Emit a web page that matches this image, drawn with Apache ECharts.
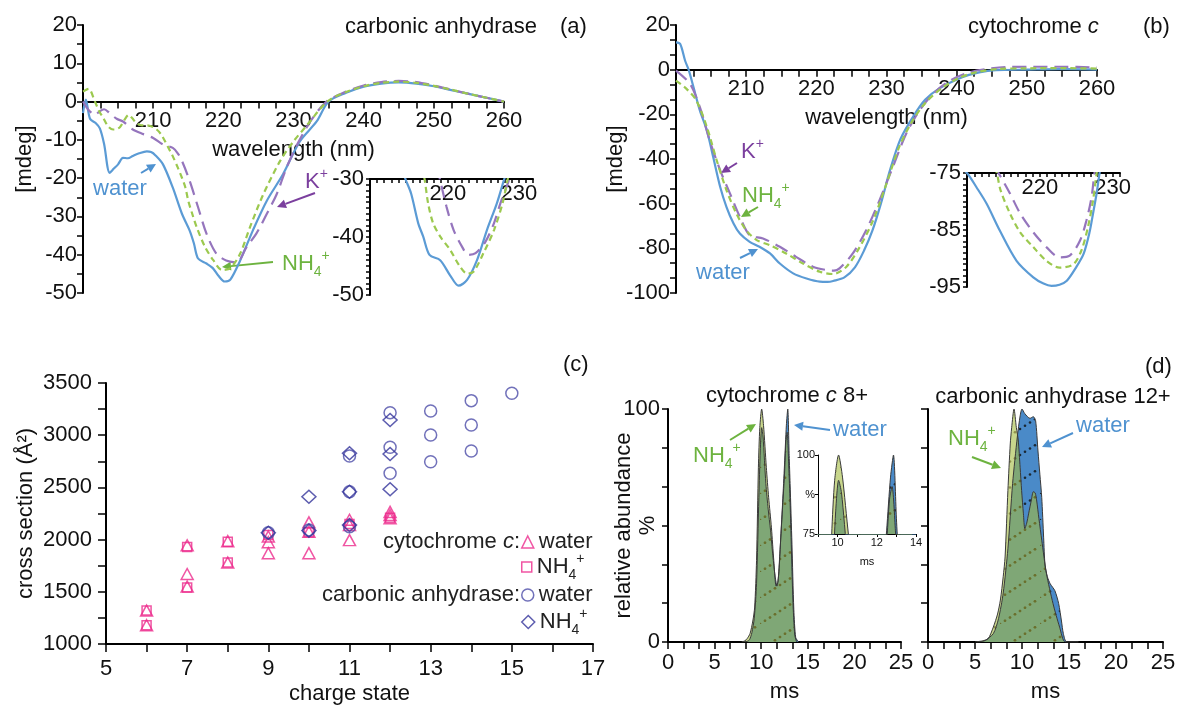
<!DOCTYPE html>
<html>
<head>
<meta charset="utf-8">
<title>CD spectra, cross sections and arrival times</title>
<script src="https://cdn.jsdelivr.net/npm/echarts@6/dist/echarts.min.js"></script>
<style>
html, body { margin: 0; padding: 0; background: #fff; }
#chart { width: 1182px; height: 708px; }
</style>
</head>
<body>
<div id="chart"></div>
<script>
var FONT = '"Liberation Sans", Arial, sans-serif';
var BLUE = '#5b9bd5', GREEN = '#9cc94f', PURPLE = '#9575bd';
var TXT_BLUE = '#4f92d0', TXT_GREEN = '#6db33f', TXT_PURPLE = '#7b3f9e';
var PINK = '#ec2a8c', CA_CIRC = '#4d4da9', CA_DIAM = '#35359b';

// (a) carbonic anhydrase CD, [wavelength nm, mdeg]
var caWater = [[200,-3],[200.4,0.5],[201,-4.5],[201.8,-5.6],[202.4,-7],[203,-11],[203.8,-18.6],[204.4,-17.5],[205,-16.4],[205.7,-14.7],[206.4,-14.8],[207.1,-14.2],[208,-13.5],[209.1,-13],[209.7,-13.2],[210.3,-14],[211.4,-16.4],[212.8,-22.5],[214.1,-29.3],[215.2,-33.7],[215.8,-37],[216.4,-41],[217.6,-42.3],[218.5,-43.5],[219.3,-45.5],[220.2,-47],[221,-46.5],[222.4,-41.5],[224.2,-33.7],[226.2,-25.9],[228.5,-19],[230.9,-10.4],[233.3,-5.2],[235,0],[237.5,2.3],[240,3.9],[242.5,4.7],[245,5],[247.5,4.7],[250,4],[252.5,3],[255,2],[257.5,1],[260,0]];
var caNH4 = [[200,2.6],[200.8,3.3],[201.7,0],[202.3,-2.5],[202.9,-4.3],[203.6,-6.5],[204.3,-7.3],[204.8,-7.2],[205.3,-6.6],[206,-4.5],[206.5,-3.5],[207,-4.3],[207.6,-5.6],[208.4,-6.2],[209.1,-6.2],[209.8,-6.5],[210.5,-7.3],[211.1,-8.5],[211.7,-10.4],[212.3,-12.5],[212.9,-14.7],[213.5,-17.2],[214.1,-19.9],[214.6,-22.5],[215,-25.9],[215.6,-29.5],[216.2,-32.8],[217.4,-38],[218.6,-41.5],[219.8,-44],[221,-43.5],[222.4,-39.7],[223.8,-32.8],[225.7,-24.2],[228.1,-15.5],[230,-10.4],[232,-6],[234.8,0],[237.5,2.5],[240,4],[242.5,4.9],[245,5.2],[247.5,4.9],[250,4.1],[252.5,3.1],[255,2],[257.5,1],[260,0]];
var caK = [[200,0],[200.5,-1.5],[201,-2.6],[201.7,-3.5],[202.4,-2.5],[203,-2],[203.8,-3],[204.8,-4.5],[205.7,-5.2],[207.1,-7.3],[208.6,-8.5],[210,-9.5],[211.4,-11.2],[212.8,-12.1],[213.5,-13.5],[214.1,-15.5],[215.2,-20.7],[216.4,-27.6],[217.6,-34.5],[219,-39.7],[220.4,-41.5],[221.9,-42],[223.3,-38],[224.7,-34.5],[226.2,-29.3],[227.6,-24.2],[229,-17.3],[230.5,-11.3],[232.4,-5.2],[234.7,0],[237.5,2.6],[240,4.2],[242.5,5.1],[245,5.4],[247.5,5.1],[250,4.2],[252.5,3.1],[255,2],[257.5,1],[260,0]];
// (a) inset
var caInsetWater = [[213.5,-28],[214,-30],[214.8,-32.5],[215.8,-37.6],[216.5,-39.9],[217.4,-43.1],[218.9,-44],[220.3,-46.6],[221.5,-48.4],[222.7,-47.4],[224.1,-44],[225.5,-38.8],[226.9,-34.2],[227.9,-30.2],[228.5,-28]];
var caInsetNH4 = [[216.3,-28],[216.7,-30],[217.2,-34.2],[217.9,-37.6],[218.9,-39.9],[220.3,-42.2],[221.7,-45.1],[222.7,-46.3],[223.6,-46],[225,-42.8],[226.5,-38.8],[227.7,-34.2],[228.4,-30.2],[228.8,-28]];
var caInsetK = [[218.5,-28],[218.9,-30.2],[219.8,-34.8],[220.8,-38.8],[222,-41.7],[222.9,-43.1],[223.9,-42.8],[225.3,-40.8],[226.5,-37.6],[227.4,-34.2],[228.6,-30.2],[229,-28]];

// (b) cytochrome c CD
var cytWater = [[200,12.2],[200.6,11.5],[201.3,4],[201.8,0],[202.5,-7.9],[203.4,-18.3],[204.4,-27.2],[205.3,-39.1],[206.3,-52.5],[207.2,-61.5],[208.2,-68.9],[209.1,-73.4],[210.5,-77.1],[211.9,-79.3],[213.4,-82.3],[214.8,-86.8],[216.7,-91.2],[218.6,-93.5],[220.5,-94.9],[221.6,-95],[222.4,-94.6],[224,-93],[225.5,-88.5],[226.8,-81],[228,-72],[229.2,-60],[230.5,-45],[232,-31],[233.8,-21],[235.5,-13.5],[237.5,-8.5],[240.8,-3.4],[243.2,-1.2],[245.6,-0.2],[250,0],[255,0.2],[260,0]];
var cytNH4 = [[200,-4.9],[201.5,-8.6],[202.9,-13.8],[204.4,-25.7],[205.8,-40.6],[207.2,-54],[208.6,-64.4],[210,-71.9],[211.5,-76.3],[213.4,-78.6],[215.7,-82.3],[218.1,-86.8],[220.5,-90.5],[222.4,-91.5],[224.3,-88.2],[226.2,-79.3],[228.1,-67.4],[230,-51],[231.8,-34.7],[233.5,-24],[235.5,-15],[238,-8],[240.5,-3.5],[243,-1],[246,0.3],[250,0.6],[255,0.7],[260,0.5]];
var cytK = [[200,-0.4],[202,-6.4],[203.4,-16.8],[204.8,-31.7],[206.3,-45.1],[207.7,-55.5],[209.1,-65.9],[210.5,-74.1],[212.4,-75.6],[214.8,-79.3],[217.1,-83.8],[219.5,-88.2],[221.4,-89.7],[222.5,-90],[223.3,-89],[225.2,-82.3],[227.1,-71.9],[229,-58.5],[230.9,-43.6],[232.8,-28.7],[234.7,-18.3],[236.6,-10.9],[239,-5],[241.5,-1.5],[244,0.2],[247,1.2],[250,1.3],[255,1.3],[260,1]];
// (b) inset
var cytInsetWater = [[209,-74],[210,-75],[211.3,-77.5],[212.7,-80.4],[214.5,-85.1],[216.8,-90.4],[219.1,-93.3],[220.5,-94.4],[221.6,-94.8],[222.7,-94.6],[223.7,-93.9],[225,-91.5],[226,-89.2],[226.8,-85.5],[227.3,-82.1],[227.8,-78.5],[228.2,-75],[228.5,-73]];
var cytInsetNH4 = [[213.8,-74],[214.1,-75],[214.6,-78],[215.9,-82.1],[217.3,-85.4],[219.1,-88],[220.9,-90.4],[222.7,-91.6],[224.6,-91],[225.7,-88.6],[226.6,-84.5],[227.3,-79.8],[227.8,-75],[228.1,-73]];
var cytInsetK = [[213.8,-74],[214.5,-75.4],[215.9,-78.6],[217.3,-82.1],[219.1,-85.4],[220.9,-88],[222.7,-89.8],[224.1,-89.5],[225.5,-86.9],[226.4,-83.3],[227.1,-79.2],[227.5,-75],[227.8,-73]];

// (c) cross sections, [charge state, cross section A^2]
var cytWaterCcs = [[6,1320],[6,1180],[7,1945],[7,1670],[7,1550],[8,1985],[8,1780],[9,2030],[9,1975],[9,1870],[10,2165],[10,2075],[10,1870],[11,2190],[11,2140],[11,1995],[12,2265],[12,2235],[12,2205]];
var cytNH4Ccs = [[6,1320],[6,1180],[7,1930],[7,1540],[8,1980],[8,1780],[9,2045],[10,2070],[11,2150],[12,2210]];
var caWaterCcs = [[9,2066],[10,2092],[11,2800],[11,2459],[11,2124],[12,3216],[12,2884],[12,2635],[13,3232],[13,3002],[13,2746],[14,3331],[14,3098],[14,2849],[15,3402]];
var caNH4Ccs = [[9,2066],[10,2411],[10,2086],[11,2827],[11,2459],[11,2140],[12,3146],[12,2820],[12,2482]];

// (d) arrival time distributions, [ms, relative abundance %]
var cyt8Water = [[8,0],[8.5,0.3],[8.75,1],[9,4],[9.25,10],[9.5,25],[9.75,62],[9.9,82],[10.05,92],[10.2,88],[10.5,68],[10.75,57],[11,48],[11.25,37],[11.5,28],[11.7,24],[11.9,30],[12.1,45],[12.3,60],[12.5,76],[12.7,93],[12.85,100],[13,80],[13.1,68],[13.3,42],[13.5,14],[13.7,2],[14,0]];
var cyt8NH4 = [[7.9,0],[8.25,0.5],[8.5,1.5],[8.8,3.6],[9.1,9],[9.3,15],[9.5,35],[9.7,75],[9.85,92],[10.05,100],[10.25,93],[10.55,75],[10.8,62],[11.1,49],[11.35,35],[11.6,24],[11.8,26],[12,38],[12.25,55],[12.5,72],[12.65,86],[12.78,90],[12.95,76],[13.1,60],[13.4,18],[13.6,3],[13.8,0]];
var ca12Water = [[5.2,0],[6,0.5],[6.95,3.6],[7.5,10],[8,21],[8.5,40],[9,68],[9.5,88],[9.8,97],[10,100],[10.3,98],[10.85,96],[11.2,96.7],[11.45,95],[11.7,82],[11.9,72],[12.1,62],[12.3,45],[12.45,33],[12.7,28],[13,25],[13.5,22],[13.9,16.5],[14.2,9],[14.4,3.6],[14.75,0],[16,0]];
var ca12NH4 = [[5,0],[5.8,0.5],[6.4,1.4],[6.95,6.4],[7.4,12],[7.7,18],[8,28],[8.2,36.5],[8.5,65],[8.75,85],[8.9,92],[9.15,100],[9.4,92],[9.6,86.7],[9.8,75],[9.96,65],[10.15,55],[10.3,48.7],[10.5,51],[10.7,55],[11,61],[11.2,64.5],[11.4,64],[11.55,61],[11.8,53],[12.1,43.7],[12.6,29.4],[13.3,16.5],[14,6.4],[14.6,0],[16,0]];

function every(step, base, skip) {
    return function (v) {
        var r = (v - base) / step;
        if (Math.abs(r - Math.round(r)) > 1e-3) return '';
        var n = Math.round(v * 100) / 100;
        if (skip && skip.indexOf(n) >= 0) return '';
        return String(n);
    };
}

function axis(grid, min, max, interval, fmt, o) {
    o = o || {};
    return {
        type: 'value', gridIndex: grid, min: min, max: max, interval: interval,
        position: o.position, offset: o.offset || 0,
        axisLine: { show: true, onZero: false, lineStyle: { color: '#000', width: o.lw || 2 } },
        axisTick: { show: true, inside: !!o.tickInside, length: o.tick || 6, lineStyle: { color: '#000', width: o.tw || 1.5 } },
        axisLabel: { show: fmt !== null, formatter: fmt || undefined, inside: !!o.labelInside,
            margin: o.margin == null ? 6 : o.margin, color: '#111', fontSize: o.fs || 22, fontFamily: FONT },
        splitLine: { show: false },
        name: o.name || '', nameLocation: 'middle', nameGap: o.gap || 30, nameMoveOverlap: false,
        nameTextStyle: { color: '#111', fontSize: o.fs || 22, fontFamily: FONT, lineHeight: o.nameLh || 24 }
    };
}

function curve(name, data, idx, color, dash) {
    return {
        type: 'line', name: name, xAxisIndex: idx, yAxisIndex: idx, data: data,
        showSymbol: false, symbol: 'none', smooth: 0.3, silent: true,
        lineStyle: { color: color, width: 2.2, type: dash }
    };
}

// dotted diagonal hatch used in the arrival time plots
function hatch(bg, dot) {
    var c = document.createElement('canvas');
    c.width = 40; c.height = 26;
    var g = c.getContext('2d');
    g.fillStyle = bg; g.fillRect(0, 0, 40, 26);
    g.fillStyle = dot;
    for (var t = 0; t < 40; t += 5) {
        g.beginPath(); g.arc(t, 26 - t * 26 / 40, 1.3, 0, Math.PI * 2); g.fill();
    }
    return { image: c, repeat: 'repeat' };
}
var waterFill = hatch('#4a8ac8', 'rgba(15,15,15,0.8)');
var nh4Fill = hatch('rgba(163,187,63,0.6)', 'rgba(105,100,35,0.6)');

function area(name, data, idx, fill) {
    return {
        type: 'line', name: name, xAxisIndex: idx, yAxisIndex: idx, data: data,
        showSymbol: false, symbol: 'none', smooth: 0.25, silent: true,
        lineStyle: { color: '#3a3a3a', width: 1 },
        areaStyle: { color: fill, opacity: 1 }
    };
}

function rich(color) {
    return {
        r: { fontSize: 22, fontFamily: FONT, fill: color, color: color, lineHeight: 30 },
        i: { fontSize: 22, fontFamily: FONT, fill: color, color: color, fontStyle: 'italic', lineHeight: 30 },
        sb: { fontSize: 14, fontFamily: FONT, fill: color, color: color, verticalAlign: 'bottom', lineHeight: 14 },
        sp: { fontSize: 14, fontFamily: FONT, fill: color, color: color, verticalAlign: 'top', lineHeight: 14 }
    };
}

function label(x, y, text, color, align) {
    return {
        type: 'text', x: x, y: y, silent: true,
        style: { text: text, rich: rich(color), fill: color, fontSize: 22, fontFamily: FONT,
            align: align || 'left', textAlign: align || 'left', verticalAlign: 'middle', textVerticalAlign: 'middle' }
    };
}

function arrow(x1, y1, x2, y2, color) {
    var dx = x2 - x1, dy = y2 - y1, len = Math.sqrt(dx * dx + dy * dy);
    var ux = dx / len, uy = dy / len, hl = 9, hw = 4.5;
    var bx = x2 - ux * hl, by = y2 - uy * hl;
    return [
        { type: 'line', silent: true, shape: { x1: x1, y1: y1, x2: bx, y2: by }, style: { stroke: color, lineWidth: 2 } },
        { type: 'polygon', silent: true, shape: { points: [[x2, y2], [bx - uy * hw, by + ux * hw], [bx + uy * hw, by - ux * hw]] }, style: { fill: color } }
    ];
}

var NH4 = '{r|NH}{sb|4}{sp|+}';
var graphics = [
    label(345, 27, '{r|carbonic anhydrase}', '#111'),
    label(560, 27, '{r|(a)}', '#111'),
    label(968, 27, '{r|cytochrome }{i|c}', '#111'),
    label(1143, 27, '{r|(b)}', '#111'),
    label(563, 365, '{r|(c)}', '#111'),
    label(1145, 367, '{r|(d)}', '#111'),
    label(787, 396, '{r|cytochrome }{i|c}{r| 8+}', '#111', 'center'),
    label(1053, 397, '{r|carbonic anhydrase 12+}', '#111', 'center'),
    label(520, 542, '{r|cytochrome }{i|c}{r|:}', '#222', 'right'),
    label(520, 595, '{r|carbonic anhydrase:}', '#222', 'right'),
    label(120, 189, '{r|water}', TXT_BLUE, 'center'),
    label(305, 182, '{r|K}{sp|+}', TXT_PURPLE),
    label(282, 264, NH4, TXT_GREEN),
    label(741, 152, '{r|K}{sp|+}', TXT_PURPLE),
    label(742, 196, NH4, TXT_GREEN),
    label(723, 273, '{r|water}', TXT_BLUE, 'center'),
    label(693, 456, NH4, TXT_GREEN),
    label(860, 430, '{r|water}', TXT_BLUE, 'center'),
    label(948, 439, NH4, TXT_GREEN),
    label(1103, 426, '{r|water}', TXT_BLUE, 'center')
].concat(
    arrow(141, 173, 156, 164, TXT_BLUE),
    arrow(315, 193, 277, 207, TXT_PURPLE),
    arrow(273, 262, 222, 267, TXT_GREEN),
    arrow(737, 163, 721, 173, TXT_PURPLE),
    arrow(758, 207, 741, 217, TXT_GREEN),
    arrow(740, 258, 758, 249, TXT_BLUE),
    arrow(730, 440, 756, 424, TXT_GREEN),
    arrow(830, 430, 794, 425, TXT_BLUE),
    arrow(972, 457, 1001, 468, TXT_GREEN),
    arrow(1073, 433, 1042, 447, TXT_BLUE)
);

var legendNames = {
    'cyt water': 'water', 'cyt NH4': '{n|NH}{sb|4}{sp|+}', 'ca water': 'water', 'ca NH4': '{n|NH}{sb|4}{sp|+}'
};
function legendAt(name, top, icon, color, size) {
    return {
        data: [{ name: name, icon: icon, itemStyle: { color: 'rgba(0,0,0,0)', borderColor: color, borderWidth: 1.5 } }],
        left: 521, top: top, padding: 0, itemWidth: size, itemHeight: size, itemGap: 0, selectedMode: false,
        formatter: function (n) { return legendNames[n]; },
        textStyle: {
            color: '#222', fontSize: 22, fontFamily: FONT,
            rich: {
                n: { fontSize: 22, fontFamily: FONT, color: '#222', lineHeight: 30 },
                sb: { fontSize: 14, fontFamily: FONT, color: '#222', verticalAlign: 'bottom', lineHeight: 14 },
                sp: { fontSize: 14, fontFamily: FONT, color: '#222', verticalAlign: 'top', lineHeight: 14 }
            }
        }
    };
}

var option = {
    animation: false,
    backgroundColor: '#fff',
    textStyle: { fontFamily: FONT },
    grid: [
        { left: 83, top: 25, width: 421, height: 268 },
        { left: 370, top: 179, width: 163, height: 116 },
        { left: 676, top: 25, width: 421, height: 268 },
        { left: 967, top: 173, width: 153, height: 114 },
        { left: 106, top: 383, width: 487, height: 261 },
        { left: 668, top: 409, width: 233, height: 233 },
        { left: 818, top: 455, width: 98, height: 79 },
        { left: 928, top: 409, width: 235, height: 233 }
    ].map(function (g) { g.outerBoundsMode = 'none'; g.containLabel = false; return g; }),
    xAxis: [
        // main CD axes sit on the zero line: shifted up from the grid bottom
        axis(0, 200, 260, 2.5, every(10, 200, [200]), { offset: -(268 * 50 / 70), name: 'wavelength (nm)', gap: 36, margin: 8, tick: 7 }),
        axis(1, 209, 232, 1, every(10, 200, [210]), { position: 'top', tickInside: true, labelInside: true, tick: 4, margin: 4 }),
        axis(2, 200, 260, 2.5, every(10, 200, [200]), { offset: -(268 * 100 / 120), name: 'wavelength (nm)', gap: 36, margin: 8, tick: 7 }),
        axis(3, 210, 231, 1, every(10, 200, [210]), { position: 'top', tickInside: true, labelInside: true, tick: 4, margin: 4 }),
        axis(4, 5, 17, 1, every(2, 5), { name: 'charge state', gap: 38, margin: 14, tick: 8 }),
        axis(5, 0, 25, 5 / 3, every(5, 0), { name: 'ms', gap: 38, margin: 10, tick: 7 }),
        axis(6, 9, 14, 1, every(2, 10), { fs: 11, lw: 1, tw: 1, tick: 3, margin: 3, name: 'ms', gap: 16 }),
        axis(7, 0, 25, 5 / 3, every(5, 0), { name: 'ms', gap: 38, margin: 10, tick: 7 })
    ],
    yAxis: [
        axis(0, -50, 20, 5, every(10, -50), { name: '[mdeg]', gap: 46, tick: 6 }),
        axis(1, -50, -30, 1, every(10, -50), { tick: 4 }),
        axis(2, -100, 20, 20 / 3, every(20, -100), { name: '[mdeg]', gap: 48, tick: 6 }),
        axis(3, -95, -75, 1, every(10, -95), { tick: 4 }),
        axis(4, 1000, 3500, 250, every(500, 1000), { name: 'cross section (Å²)', gap: 68, margin: 14, tick: 8 }),
        axis(5, 0, 100, 100 / 6, every(100, 0), { name: 'relative abundance\n%', gap: 8, margin: 8, nameLh: 24 }),
        axis(6, 75, 100, 12.5, function (v) { return v === 75 ? '75' : (v === 100 ? '100' : '%'); }, { fs: 11, lw: 1, tw: 1, tick: 3, margin: 3 }),
        axis(7, 0, 100, 100 / 6, null, { tick: 7 })
    ],
    legend: [
        legendAt('cyt water', 531, 'triangle', PINK, 12),
        legendAt('cyt NH4', 552, 'rect', PINK, 10),
        legendAt('ca water', 584, 'circle', CA_CIRC, 12),
        legendAt('ca NH4', 607, 'diamond', CA_DIAM, 13)
    ],
    series: [
        curve('water', caWater, 0, BLUE, 'solid'),
        curve('K+', caK, 0, PURPLE, [14, 7]),
        curve('NH4+', caNH4, 0, GREEN, [6, 4]),
        curve('water', caInsetWater, 1, BLUE, 'solid'),
        curve('K+', caInsetK, 1, PURPLE, [12, 7]),
        curve('NH4+', caInsetNH4, 1, GREEN, [6, 4]),
        curve('water', cytWater, 2, BLUE, 'solid'),
        curve('K+', cytK, 2, PURPLE, [14, 7]),
        curve('NH4+', cytNH4, 2, GREEN, [6, 4]),
        curve('water', cytInsetWater, 3, BLUE, 'solid'),
        curve('K+', cytInsetK, 3, PURPLE, [12, 7]),
        curve('NH4+', cytInsetNH4, 3, GREEN, [6, 4]),
        { type: 'scatter', name: 'cyt water', xAxisIndex: 4, yAxisIndex: 4, data: cytWaterCcs, symbol: 'triangle', symbolSize: [12, 11],
          itemStyle: { color: 'rgba(0,0,0,0)', borderColor: PINK, borderWidth: 1.5 } },
        { type: 'scatter', name: 'cyt NH4', xAxisIndex: 4, yAxisIndex: 4, data: cytNH4Ccs, symbol: 'rect', symbolSize: 9,
          itemStyle: { color: 'rgba(0,0,0,0)', borderColor: PINK, borderWidth: 1.5 } },
        { type: 'scatter', name: 'ca water', xAxisIndex: 4, yAxisIndex: 4, data: caWaterCcs, symbol: 'circle', symbolSize: 12,
          itemStyle: { color: 'rgba(0,0,0,0)', borderColor: CA_CIRC, borderWidth: 1.5 } },
        { type: 'scatter', name: 'ca NH4', xAxisIndex: 4, yAxisIndex: 4, data: caNH4Ccs, symbol: 'diamond', symbolSize: [14, 13],
          itemStyle: { color: 'rgba(0,0,0,0)', borderColor: CA_DIAM, borderWidth: 1.5 } },
        area('water', cyt8Water, 5, waterFill),
        area('NH4+', cyt8NH4, 5, nh4Fill),
        area('water', cyt8Water, 6, waterFill),
        area('NH4+', cyt8NH4, 6, nh4Fill),
        area('water', ca12Water, 7, waterFill),
        area('NH4+', ca12NH4, 7, nh4Fill)
    ],
    graphic: { elements: graphics }
};

var chart = echarts.init(document.getElementById('chart'));
chart.setOption(option);
</script>
</body>
</html>
